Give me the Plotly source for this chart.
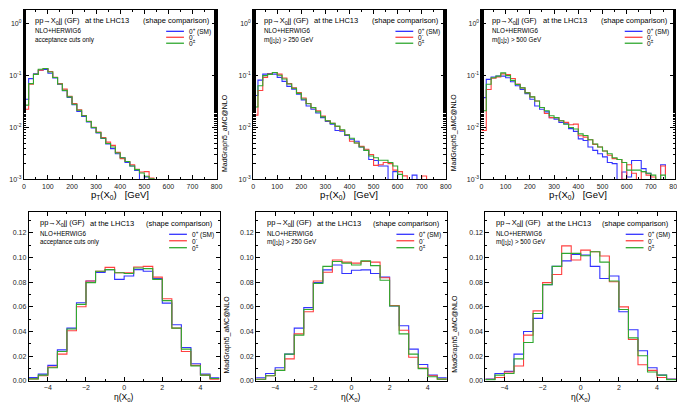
import plotly.graph_objects as go

W, H = 685, 402

# ---------------- data ----------------
pt_edges = list(range(0, 820, 20))          # 40 bins, 0..800 GeV
eta_edges = [-5 + 0.5 * i for i in range(21)]  # 20 bins, -5..5

pt_cuts_labels = ["acceptance cuts only",
                  "m(j<sub>1</sub>j<sub>2</sub>) > 250 GeV",
                  "m(j<sub>1</sub>j<sub>2</sub>) > 500 GeV"]
series_names = ["0<sup>+</sup> (SM)", "0<sup>-</sup>", "0<sup>±</sup>"]
series_colors = ["#3333ff", "#ff4040", "#30a830"]

# pT(X0) distributions (normalised), acceptance cuts only
pt_acc_sm = [0.035, 0.0875, 0.109, 0.127, 0.132, 0.111, 0.090, 0.068, 0.051, 0.038,
             0.0275, 0.0203, 0.0163, 0.0128, 0.0098, 0.0078, 0.0061, 0.0048, 0.0039, 0.0031,
             0.0026, 0.0021, 0.0018, 0.00147, 0, 0.0011, 0, 0, 0, 0,
             0, 0, 0, 0, 0, 0, 0, 0, 0, 0]
pt_acc_m = [0.0225, 0.068, 0.106, 0.128, 0.137, 0.120, 0.093, 0.070, 0.055, 0.040,
            0.029, 0.0218, 0.0170, 0.0131, 0.0101, 0.0081, 0.0064, 0.0052, 0.0045, 0.0033,
            0.0025, 0.0022, 0.0019, 0.00155, 0.00138, 0.0014, 0.00105, 0, 0, 0,
            0, 0, 0, 0, 0, 0, 0, 0, 0, 0]
pt_acc_mix = [0.027, 0.070, 0.106, 0.133, 0.137, 0.118, 0.092, 0.069, 0.052, 0.039,
              0.028, 0.0215, 0.0168, 0.0130, 0.0100, 0.0080, 0.0062, 0.0049, 0.0042, 0.0032,
              0.0026, 0.0022, 0.0018, 0.00153, 0.00132, 0.00114, 0.00102, 0, 0, 0,
              0, 0, 0, 0, 0, 0, 0, 0, 0, 0]

# pT(X0), m(j1j2) > 250 GeV
pt_250_sm = [0.0414, 0.082, 0.107, 0.110, 0.107, 0.0925, 0.0776, 0.062, 0.055, 0.044,
             0.034, 0.026, 0.0225, 0.019, 0.0155, 0.013, 0.0115, 0.0087, 0.0085, 0.0070,
             0.0059, 0.0054, 0.0042, 0.0036, 0.0024, 0.0023, 0.0018, 0.0018, 0, 0.0014,
             0, 0, 0, 0.0012, 0, 0, 0, 0, 0, 0]
pt_250_m = [0.0173, 0.0515, 0.0925, 0.107, 0.115, 0.107, 0.090, 0.070, 0.058, 0.047,
            0.037, 0.029, 0.024, 0.021, 0.0165, 0.0135, 0.012, 0.0104, 0.0088, 0.0072,
            0.0054, 0.0050, 0.0043, 0.0038, 0.0030, 0.00185, 0.0019, 0.0021, 0.0020, 0.0015,
            0.0014, 0.00116, 0, 0, 0, 0.00115, 0, 0, 0, 0]
pt_250_mix = [0.0248, 0.064, 0.100, 0.106, 0.115, 0.102, 0.086, 0.069, 0.057, 0.0455,
              0.0355, 0.0287, 0.0241, 0.020, 0.016, 0.0135, 0.012, 0.0106, 0.0090, 0.0072,
              0.0062, 0.0050, 0.0042, 0.0036, 0.0028, 0.0026, 0.00233, 0.00233, 0.0021, 0.0018,
              0.00124, 0, 0, 0, 0, 0, 0, 0, 0, 0]

# pT(X0), m(j1j2) > 500 GeV
pt_500_sm = [0.0377, 0.0846, 0.094, 0.098, 0.098, 0.091, 0.076, 0.064, 0.054, 0.045,
             0.035, 0.026, 0.0225, 0.020, 0.0155, 0.0145, 0.0125, 0.0118, 0.0095, 0.0084,
             0.0060, 0.0056, 0.0042, 0.0036, 0.0031, 0.0027, 0.0021, 0.0020, 0, 0.00138,
             0.0011, 0.0023, 0.0023, 0.0016, 0.0013, 0, 0, 0.0019, 0, 0]
pt_500_m = [0.0087, 0.054, 0.089, 0.094, 0.108, 0.105, 0.088, 0.069, 0.058, 0.047,
            0.039, 0.0325, 0.0242, 0.0186, 0.0155, 0.0155, 0.0135, 0.0125, 0.0113, 0.0116,
            0.0069, 0.0065, 0.0058, 0.0047, 0.0042, 0.0035, 0.0029, 0.0025, 0.0024, 0.0010,
            0.0019, 0.0013, 0, 0.0014, 0.0012, 0.0011, 0, 0.0018, 0, 0]
pt_500_mix = [0.021, 0.068, 0.091, 0.098, 0.113, 0.100, 0.081, 0.0675, 0.058, 0.0465,
              0.039, 0.0325, 0.0242, 0.021, 0.0168, 0.0155, 0.0135, 0.0115, 0.010, 0.0093,
              0.0075, 0.0070, 0.0058, 0.0048, 0.0042, 0.0035, 0.0031, 0.0026, 0.0024, 0.0021,
              0.0015, 0.0015, 0.0015, 0.0014, 0.0013, 0.0012, 0, 0.0012, 0, 0]

# eta(X0) distributions
eta_acc_sm = [0.0025, 0.0053, 0.0124, 0.025, 0.0427, 0.0633, 0.081, 0.0878, 0.0902, 0.0823,
              0.085, 0.0902, 0.0889, 0.083, 0.063, 0.0454, 0.0269, 0.0137, 0.0053, 0.0024]
eta_acc_m = [0.0015, 0.004, 0.011, 0.0216, 0.0406, 0.060, 0.081, 0.0889, 0.092, 0.0876,
             0.0876, 0.0923, 0.0928, 0.0841, 0.0665, 0.0427, 0.0237, 0.0124, 0.0045, 0.0013]
eta_acc_mix = [0.0015, 0.0045, 0.0105, 0.0237, 0.042, 0.062, 0.0796, 0.0889, 0.0902, 0.0876,
               0.087, 0.0915, 0.091, 0.0823, 0.065, 0.0427, 0.0256, 0.012, 0.0045, 0.0018]

eta_250_sm = [0.0024, 0.0058, 0.0105, 0.0216, 0.0427, 0.0593, 0.0796, 0.090, 0.094, 0.087,
              0.0897, 0.090, 0.087, 0.0841, 0.0607, 0.0446, 0.0256, 0.0132, 0.0045, 0.0024]
eta_250_m = [0.0012, 0.004, 0.0084, 0.0177, 0.038, 0.056, 0.081, 0.088, 0.098, 0.0963,
             0.0955, 0.0968, 0.0963, 0.0836, 0.061, 0.041, 0.019, 0.0103, 0.004, 0.0013]
eta_250_mix = [0.0012, 0.004, 0.0084, 0.0216, 0.037, 0.0578, 0.079, 0.0928, 0.0968, 0.0955,
               0.094, 0.0973, 0.0934, 0.0815, 0.0607, 0.038, 0.0216, 0.0098, 0.0032, 0.0013]

eta_500_sm = [0.0013, 0.0058, 0.0076, 0.0216, 0.040, 0.0506, 0.078, 0.0928, 0.0973, 0.1026,
              0.102, 0.0928, 0.083, 0.085, 0.056, 0.0414, 0.0243, 0.0105, 0.0045, 0.0013]
eta_500_m = [0.0011, 0.0026, 0.0071, 0.0119, 0.037, 0.0567, 0.0796, 0.0862, 0.1095, 0.098,
             0.106, 0.1047, 0.1013, 0.0804, 0.0599, 0.0335, 0.0129, 0.0084, 0.0026, 0.0011]
eta_500_mix = [0.0009, 0.0045, 0.0058, 0.0177, 0.031, 0.0546, 0.078, 0.0928, 0.1034, 0.1034,
               0.1015, 0.1047, 0.0963, 0.081, 0.0578, 0.0348, 0.0203, 0.0071, 0.0045, 0.0009]

# ---------------- layout helpers ----------------
def xd(l, r):
    return [l / W, r / W]

def yd(t, b):
    return [1 - b / H, 1 - t / H]

def px(x):
    return x / W

def py(y):
    return 1 - y / H

FONT = "Liberation Sans, Arial, sans-serif"
EB = 375.5  # bottom of the eta frames

panels = [
    # (frame left, right, top, bottom, kind, data, cut label)
    (14, 209, 2, 172.5, "pt", [pt_acc_sm, pt_acc_m, pt_acc_mix], pt_cuts_labels[0]),
    (246, 441, 2, 172.5, "pt", [pt_250_sm, pt_250_m, pt_250_mix], pt_cuts_labels[1]),
    (477, 673, 2, 172.5, "pt", [pt_500_sm, pt_500_m, pt_500_mix], pt_cuts_labels[2]),
    (19, 212, 206, EB, "eta", [eta_acc_sm, eta_acc_m, eta_acc_mix], pt_cuts_labels[0]),
    (249, 442, 206, EB, "eta", [eta_250_sm, eta_250_m, eta_250_mix], pt_cuts_labels[1]),
    (481, 674, 206, EB, "eta", [eta_500_sm, eta_500_m, eta_500_mix], pt_cuts_labels[2]),
]

fig = go.Figure()
annotations = []
shapes = []

for i, (L, R, T, B, kind, series, cutlab) in enumerate(panels):
    n = i + 1
    xa = "x" if n == 1 else f"x{n}"
    ya = "y" if n == 1 else f"y{n}"
    edges = pt_edges if kind == "pt" else eta_edges
    for vals, name, col in zip(series, series_names, series_colors):
        if kind == "pt":
            yv = [v if v > 0 else 1e-6 for v in vals]
        else:
            yv = list(vals)
        yv = yv + [yv[-1]]
        fig.add_trace(go.Scatter(x=edges, y=yv, mode="lines", line_shape="hv",
                                 line=dict(color=col, width=1.1),
                                 xaxis=xa, yaxis=ya, showlegend=False, hoverinfo="skip"))
    axbase = dict(showline=True, linecolor="black", linewidth=1, mirror="ticks",
                  ticks="inside", ticklen=4, tickcolor="black", tickwidth=1,
                  showgrid=False, zeroline=False,
                  tickfont=dict(family=FONT, size=7, color="#222"))
    xkey = "xaxis" if n == 1 else f"xaxis{n}"
    ykey = "yaxis" if n == 1 else f"yaxis{n}"
    if kind == "pt":
        xax = dict(axbase, domain=xd(L, R), range=[0, 800], tickvals=list(range(0, 900, 100)),
                   anchor=ya, minor=dict(ticks="inside", ticklen=2, dtick=50, tickcolor="black"))
        yax = dict(axbase, domain=yd(T, B), type="log", range=[-3, 0.268],
                   tickvals=[1e-3, 1e-2, 1e-1, 1],
                   ticktext=["10<sup>-3</sup>", "10<sup>-2</sup>", "10<sup>-1</sup>", "10<sup>0</sup>"],
                   anchor=xa, ticklen=5,
                   minor=dict(ticks="inside", ticklen=2.5, tickcolor="black"))
    else:
        xax = dict(axbase, domain=xd(L, R), range=[-5, 5], tickvals=[-4, -2, 0, 2, 4],
                   anchor=ya, minor=dict(ticks="inside", ticklen=2, dtick=1, tickcolor="black"))
        yax = dict(axbase, domain=yd(T, B), range=[0, 0.1366],
                   tickvals=[0, 0.02, 0.04, 0.06, 0.08, 0.10, 0.12], tickformat=".2f",
                   anchor=xa, minor=dict(ticks="inside", ticklen=2, dtick=0.01, tickcolor="black"))
    fig.update_layout({xkey: xax, ykey: yax})

    # texts inside the frame
    ty = T + 11
    annotations.append(dict(x=px(L + 9), y=py(ty), xref="paper", yref="paper",
                            text="pp→X<sub>0</sub>jj (GF)", showarrow=False,
                            xanchor="left", yanchor="middle",
                            font=dict(family=FONT, size=7.5, color="black")))
    annotations.append(dict(x=px(L + 60), y=py(ty), xref="paper", yref="paper",
                            text="at the LHC13", showarrow=False,
                            xanchor="left", yanchor="middle",
                            font=dict(family=FONT, size=7.5, color="black")))
    annotations.append(dict(x=px(R - 5), y=py(ty), xref="paper", yref="paper",
                            text="(shape comparison)", showarrow=False,
                            xanchor="right", yanchor="middle",
                            font=dict(family=FONT, size=7.5, color="black")))
    annotations.append(dict(x=px(L + 9), y=py(T + 21), xref="paper", yref="paper",
                            text="NLO+HERWIG6", showarrow=False,
                            xanchor="left", yanchor="middle",
                            font=dict(family=FONT, size=6.3, color="black")))
    annotations.append(dict(x=px(L + 9), y=py(T + 30), xref="paper", yref="paper",
                            text=cutlab, showarrow=False,
                            xanchor="left", yanchor="middle",
                            font=dict(family=FONT, size=6.3, color="black")))
    # legend
    rows = [T + 21.5, T + 27.5, T + 33.5] if kind == "pt" else [T + 22, T + 28.5, T + 35.5]
    for ry, name, col in zip(rows, series_names, series_colors):
        shapes.append(dict(type="line", xref="paper", yref="paper",
                           x0=px(R - 51), x1=px(R - 33), y0=py(ry), y1=py(ry),
                           line=dict(color=col, width=1.3)))
        annotations.append(dict(x=px(R - 30), y=py(ry), xref="paper", yref="paper",
                                text=name, showarrow=False, xanchor="left", yanchor="middle",
                                font=dict(family=FONT, size=6.5, color="black")))
    # right vertical label
    annotations.append(dict(x=px(min(R + 8, 680)), y=py(B - 47), xref="paper", yref="paper",
                            text="MadGraph5_aMC@NLO", showarrow=False, textangle=-90,
                            xanchor="center", yanchor="middle",
                            font=dict(family=FONT, size=7, color="black")))
    # axis title
    if kind == "pt":
        annotations.append(dict(x=px((L + R) / 2), y=py(B + 16), xref="paper", yref="paper",
                                text="p<sub>T</sub>(X<sub>0</sub>)   [GeV]", showarrow=False,
                                xanchor="center", yanchor="middle",
                                font=dict(family=FONT, size=9.5, color="black")))
    else:
        annotations.append(dict(x=px((L + R) / 2), y=py(392.5), xref="paper", yref="paper",
                                text="η(X<sub>0</sub>)", showarrow=False,
                                xanchor="center", yanchor="middle",
                                font=dict(family=FONT, size=8.5, color="black")))

fig.update_layout(width=W, height=H, margin=dict(l=0, r=0, t=0, b=0),
                  paper_bgcolor="white", plot_bgcolor="white",
                  annotations=annotations, shapes=shapes, showlegend=False)

fig.write_html("out.html")
